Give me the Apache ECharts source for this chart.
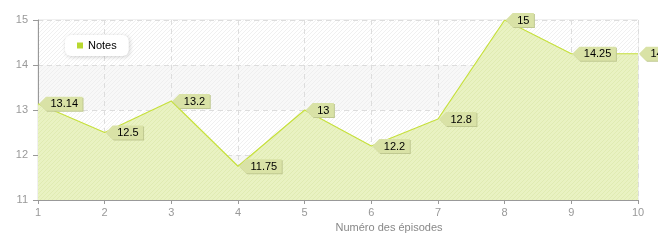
<!DOCTYPE html>
<html><head><meta charset="utf-8">
<script src="https://cdn.jsdelivr.net/npm/echarts@6/dist/echarts.min.js"></script>
<style>html,body{margin:0;padding:0;background:#fff}#c{width:658px;height:240px}</style>
</head><body><div id="c"></div>
<script>
var episodes = [1, 2, 3, 4, 5, 6, 7, 8, 9, 10];
var notes = [13.14, 12.5, 13.2, 11.75, 13, 12.2, 12.8, 15, 14.25, 14.25];
var seriesName = 'Notes';
var xAxisName = 'Numéro des épisodes';
var FONT = '"Liberation Sans", Arial, sans-serif';

function hatch(base, line) {
  var c = document.createElement('canvas');
  c.width = 4; c.height = 4;
  var g = c.getContext('2d');
  g.fillStyle = base; g.fillRect(0, 0, 4, 4);
  g.fillStyle = line;
  g.fillRect(3, 0, 1, 1); g.fillRect(2, 1, 1, 1); g.fillRect(1, 2, 1, 1); g.fillRect(0, 3, 1, 1);
  return {image: c, repeat: 'repeat'};
}
var measure = document.createElement('canvas').getContext('2d');
measure.font = '11px ' + FONT;

var data = episodes.map(function (e, i) { return [e, notes[i]]; });
var chart = echarts.init(document.getElementById('c'));
chart.setOption({
  animation: false,
  grid: {left: 38, right: 20, top: 20, bottom: 40, show: true, borderColor: '#e0e0e0', borderWidth: 1, backgroundColor: 'transparent'},
  legend: {
    left: 65, top: 35, backgroundColor: '#fff', borderRadius: 6, padding: [5, 12, 5, 12],
    shadowBlur: 4, shadowColor: 'rgba(0,0,0,0.18)', shadowOffsetX: 1, shadowOffsetY: 1,
    icon: 'rect', itemWidth: 6, itemHeight: 6, itemGap: 6,
    textStyle: {fontFamily: FONT, fontSize: 11, color: '#000'},
    data: [{name: seriesName, itemStyle: {color: '#b8d830'}}]
  },
  xAxis: {
    type: 'value', min: 1, max: 10, interval: 1,
    name: xAxisName, nameLocation: 'middle', nameGap: 22,
    nameTextStyle: {fontFamily: FONT, fontSize: 11, color: '#888', padding: [0, 0, 0, 102]},
    axisLine: {lineStyle: {color: '#999'}},
    axisTick: {show: true, length: 4, lineStyle: {color: '#999'}},
    axisLabel: {fontFamily: FONT, fontSize: 11, color: '#999', margin: 7},
    splitLine: {show: true, lineStyle: {color: '#ddd', type: [5, 4]}}
  },
  yAxis: {
    type: 'value', min: 11, max: 15, interval: 1,
    axisLine: {show: true, lineStyle: {color: '#999'}},
    axisTick: {show: true, length: 5, lineStyle: {color: '#999'}},
    axisLabel: {fontFamily: FONT, fontSize: 11, color: '#999', margin: 10},
    splitLine: {show: true, lineStyle: {color: '#ddd', type: [5, 4]}},
    splitArea: {show: true, areaStyle: {color: [hatch('#f8f8f8', '#efefef'), hatch('#ffffff', '#f0f0f0')]}}
  },
  series: [{
    name: seriesName, type: 'line', data: data, showSymbol: false, symbol: 'none',
    lineStyle: {color: '#c6e03c', width: 1.2},
    itemStyle: {color: '#b8d830'},
    areaStyle: {color: hatch('#e9f2c2', '#e0ebb2'), opacity: 1}
  }, {
    type: 'custom', data: data, clip: false, z: 10, silent: true,
    renderItem: function (params, api) {
      var p = api.coord([api.value(0), api.value(1)]);
      var txt = String(api.value(1));
      var tw = measure.measureText(txt).width;
      var bx = p[0] + 8, h = 14, top = p[1] - 7, w = tw + 9;
      var shape = [[p[0] + 1, p[1]], [bx, top], [bx + w, top], [bx + w, top + h], [bx, top + h]];
      var shadow = shape.map(function (q) { return [q[0] + 1, q[1] + 1]; });
      return {type: 'group', children: [
        {type: 'polygon', shape: {points: shadow}, style: {fill: '#bfc890'}},
        {type: 'polygon', shape: {points: shape}, style: {fill: '#d9e2a6'}},
        {type: 'text', style: {text: txt, x: bx + w / 2, y: p[1] + 0.5, align: 'center', verticalAlign: 'middle',
          font: '11px ' + FONT, fill: '#000'}}
      ]};
    }
  }]
});
</script></body></html>
